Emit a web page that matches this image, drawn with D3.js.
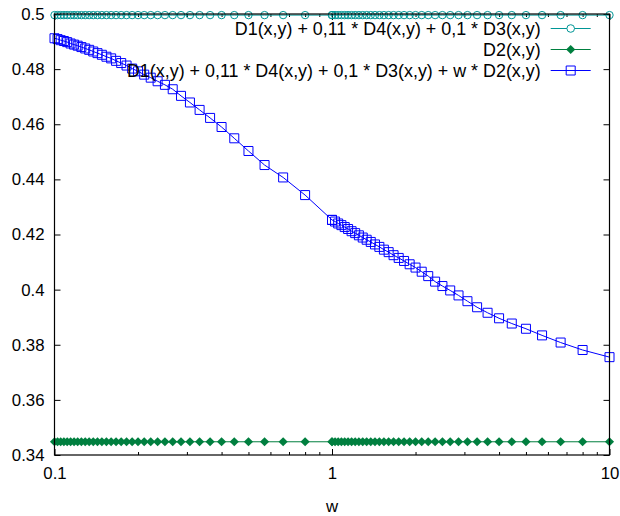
<!DOCTYPE html>
<html><head><meta charset="utf-8">
<script src="https://cdn.jsdelivr.net/npm/d3@7"></script>
<style>body{margin:0;background:#fff}svg{display:block;font-family:"Liberation Sans",Arial,sans-serif}</style>
</head><body><svg id="c" width="620" height="516"></svg>
<script>
// k values: left half w = 1/k, right half w = 10/k (k = 1 .. 10 step 0.25)
const kValues = [1,1.25,1.5,1.75,2,2.25,2.5,2.75,3,3.25,3.5,3.75,4,4.25,4.5,4.75,5,5.25,5.5,5.75,6,6.25,6.5,6.75,7,7.25,7.5,7.75,8,8.25,8.5,8.75,9,9.25,9.5,9.75,10];
const wLeft = kValues.map(k => 1 / k);
const wRight = kValues.map(k => 10 / k);
// blue series values (same order as kValues)
const blueLeft = [0.4253,0.4343,0.4407,0.4452,0.4503,0.4549,0.4590,0.4623,0.4652,0.4679,0.4703,0.4727,0.4743,0.4756,0.4769,0.4780,0.4792,0.4802,0.4813,0.4822,0.4830,0.4839,0.4845,0.4852,0.4858,0.4864,0.4870,0.4875,0.4880,0.4885,0.4889,0.4893,0.4898,0.4902,0.4905,0.4909,0.4912];
const blueRight = [0.3755,0.3781,0.3808,0.3834,0.3858,0.3877,0.3896,0.3916,0.3936,0.3958,0.3979,0.3997,0.4013,0.4029,0.4049,0.4065,0.4080,0.4092,0.4104,0.4115,0.4125,0.4136,0.4145,0.4155,0.4164,0.4173,0.4181,0.4189,0.4197,0.4205,0.4212,0.4220,0.4227,0.4234,0.4240,0.4247,0.4253];
const tealValue = 0.4996;
const greenValue = 0.3448;
const seriesNames = ["D1(x,y) + 0,11 * D4(x,y) + 0,1 * D3(x,y)", "D2(x,y)", "D1(x,y) + 0,11 * D4(x,y) + 0,1 * D3(x,y) + w * D2(x,y)"];
const seriesColors = ["#009696", "#007f3f", "#0000ff"];
const yTickValues = [0.34,0.36,0.38,0.40,0.42,0.44,0.46,0.48,0.50];
const yTickLabels = ["0.34","0.36","0.38","0.4","0.42","0.44","0.46","0.48","0.5"];
const xMajorTicks = [0.1, 1, 10];
const xMajorLabels = ["0.1", "1", "10"];
const xMinorTicks = [0.2,0.3,0.4,0.5,0.6,0.7,0.8,0.9,2,3,4,5,6,7,8,9];
const xLabel = "w";

const m = {left: 54.5, right: 609.5, top: 14, bottom: 455};
const svg = d3.select("#c");
const x = d3.scaleLog().domain([0.1, 10]).range([m.left, m.right]);
const y = d3.scaleLinear().domain([0.34, 0.5]).range([m.bottom, m.top]);

const wAll = wRight.slice().reverse().concat(wLeft.slice().reverse());
const blueAll = blueRight.slice().reverse().concat(blueLeft.slice().reverse());
let pts = wAll.map((w, i) => ({w, b: blueAll[i]}));
pts.sort((a, b) => a.w - b.w);
const tealPts = pts.map(p => ({w: p.w, v: tealValue}));
const greenPts = pts.map(p => ({w: p.w, v: greenValue}));
const bluePts = pts.map(p => ({w: p.w, v: p.b}));

const fontSize = 16.8;
const legendFont = 17.9;
function styleAxis(g) { g.select(".domain").remove(); g.selectAll("line").attr("stroke", "#000"); g.selectAll("text").attr("font-size", fontSize).attr("font-family", "Liberation Sans, Arial, sans-serif").attr("fill", "#000"); }
svg.append("g").attr("transform", `translate(${m.left},0)`)
  .call(d3.axisLeft(y).tickValues(yTickValues).tickSize(-6).tickPadding(10).tickFormat((d, i) => yTickLabels[i])).call(styleAxis);
svg.append("g").attr("transform", `translate(${m.right},0)`)
  .call(d3.axisRight(y).tickValues(yTickValues).tickSize(-6).tickFormat("")).call(styleAxis);
svg.append("g").attr("transform", `translate(0,${m.bottom})`)
  .call(d3.axisBottom(x).tickValues(xMajorTicks).tickSize(-6).tickPadding(12).tickFormat((d, i) => xMajorLabels[i])).call(styleAxis);
svg.append("g").attr("transform", `translate(0,${m.bottom})`)
  .call(d3.axisBottom(x).tickValues(xMinorTicks).tickSize(-3).tickFormat("")).call(styleAxis);
svg.append("g").attr("transform", `translate(0,${m.top})`)
  .call(d3.axisTop(x).tickValues(xMajorTicks).tickSize(-6).tickFormat("")).call(styleAxis);
svg.append("g").attr("transform", `translate(0,${m.top})`)
  .call(d3.axisTop(x).tickValues(xMinorTicks).tickSize(-3).tickFormat("")).call(styleAxis);

svg.append("text").attr("x", (m.left + m.right) / 2).attr("y", 512).attr("text-anchor", "middle")
  .attr("font-size", fontSize).text(xLabel);

const line = d3.line().x(d => x(d.w)).y(d => y(d.v));
const diamond = d3.symbol().type(d3.symbolSquare).size(42);
const square = d3.symbol().type(d3.symbolSquare).size(81);

// teal
svg.append("path").datum(tealPts).attr("d", line).attr("fill", "none").attr("stroke", seriesColors[0]).attr("stroke-width", 1);
svg.append("g").selectAll("circle").data(tealPts).join("circle")
  .attr("cx", d => x(d.w)).attr("cy", d => y(d.v)).attr("r", 3.7)
  .attr("fill", "none").attr("stroke", seriesColors[0]).attr("stroke-width", 1);
// green
svg.append("path").datum(greenPts).attr("d", line).attr("fill", "none").attr("stroke", seriesColors[1]).attr("stroke-width", 1);
svg.append("g").selectAll("path").data(greenPts).join("path")
  .attr("d", diamond).attr("transform", d => `translate(${x(d.w)},${y(d.v)}) rotate(45)`)
  .attr("fill", seriesColors[1]);
// blue
svg.append("path").datum(bluePts).attr("d", line).attr("fill", "none").attr("stroke", seriesColors[2]).attr("stroke-width", 1);
svg.append("g").selectAll("path").data(bluePts).join("path")
  .attr("d", square).attr("transform", d => `translate(${x(d.w)},${y(d.v)})`)
  .attr("fill", "none").attr("stroke", seriesColors[2]).attr("stroke-width", 1);

// border
svg.append("rect").attr("x", m.left).attr("y", m.top).attr("width", m.right - m.left).attr("height", m.bottom - m.top)
  .attr("fill", "none").attr("stroke", "#000").attr("stroke-width", 1.2);

// legend
const legY = [28.5, 49.5, 70.5];
const lx1 = 550.7, lx2 = 590.7, lmx = 570.7, ltx = 540.7;
const leg = svg.append("g");
seriesNames.forEach((name, i) => {
  leg.append("text").attr("x", ltx).attr("y", legY[i]).attr("dy", "0.35em").attr("text-anchor", "end")
    .attr("font-size", legendFont).attr("fill", "#000").text(name);
  leg.append("line").attr("x1", lx1).attr("x2", lx2).attr("y1", legY[i]).attr("y2", legY[i])
    .attr("stroke", seriesColors[i]).attr("stroke-width", 1);
});
leg.append("circle").attr("cx", lmx).attr("cy", legY[0]).attr("r", 3.8).attr("fill", "#fff").attr("stroke", seriesColors[0]);
leg.append("path").attr("d", diamond).attr("transform", `translate(${lmx},${legY[1]}) rotate(45)`).attr("fill", seriesColors[1]);
leg.append("path").attr("d", square).attr("transform", `translate(${lmx},${legY[2]})`).attr("fill", "none").attr("stroke", seriesColors[2]);
</script>
</body></html>
